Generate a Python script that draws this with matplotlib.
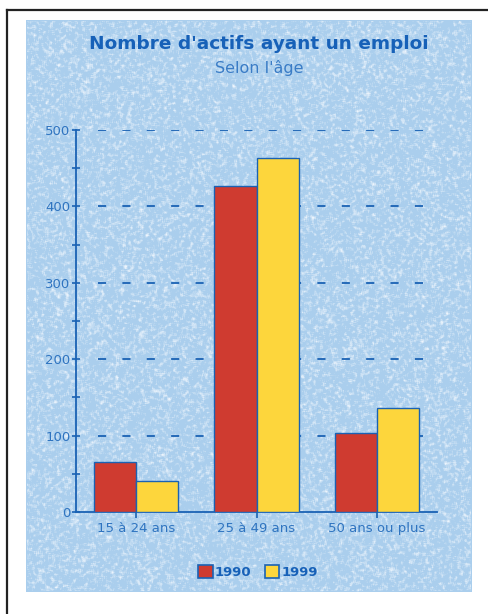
import numpy as np
import matplotlib.pyplot as plt
from matplotlib.lines import Line2D
from matplotlib.patches import Patch

categories = ['15 à 24 ans', '25 à 49 ans', '50 ans ou plus']
years = ['1990', '1999']
actifs_1990 = [65, 427, 103]
actifs_1999 = [40, 463, 136]

BLUE = '#1a62b4'
RED = '#cf3b30'
YELLOW = '#fdd63c'

plt.rcParams['font.family'] = ['DejaVu Sans']

W, H = 488, 614
fig = plt.figure(figsize=(W / 100, H / 100), dpi=100)
fig.patch.set_facecolor('white')

# speckled light-blue panel behind the chart
px0, px1, py0, py1 = 26, 472, 20, 592
bg = fig.add_axes([px0 / W, 1 - py1 / H, (px1 - px0) / W, (py1 - py0) / H], zorder=0)
rng = np.random.default_rng(7)
h, w = py1 - py0, px1 - px0
noise = rng.random((h, w))
k = np.ones(3) / 3
noise = np.apply_along_axis(lambda r: np.convolve(r, k, mode='same'), 1, noise)
noise = np.apply_along_axis(lambda c: np.convolve(c, k, mode='same'), 0, noise)
base = np.array([0.67, 0.81, 0.93])
white = np.clip((noise - 0.48) * 2.8, 0, 1)[..., None]
img = base * (1 - white) + np.array([0.93, 0.96, 0.99]) * white
bg.imshow(img, aspect='auto', interpolation='bilinear')
bg.set_axis_off()

# scanned page border (top and left edges)
fig.add_artist(Line2D([7 / W, 1], [1 - 10 / H, 1 - 10 / H], color='#222222', lw=1.6,
                      transform=fig.transFigure))
fig.add_artist(Line2D([7 / W, 7 / W], [0, 1 - 10 / H], color='#222222', lw=1.6,
                      transform=fig.transFigure))

ax = fig.add_axes([76 / W, 1 - 512 / H, (437 - 76) / W, (512 - 130) / H], zorder=1)
ax.patch.set_alpha(0)

x = np.arange(len(categories))
bw = 0.35
ax.bar(x - bw / 2, actifs_1990, bw, color=RED, edgecolor=BLUE, linewidth=1.0, zorder=3,
       label=years[0])
ax.bar(x + bw / 2, actifs_1999, bw, color=YELLOW, edgecolor=BLUE, linewidth=1.0, zorder=3,
       label=years[1])

ax.set_xlim(-0.5, 2.5)
ax.set_ylim(0, 500)
ax.set_yticks(range(0, 501, 100))
ax.set_yticks(range(50, 500, 100), minor=True)
ax.set_xticks(x)
ax.set_xticklabels(categories)

for v in range(100, 501, 100):
    ax.axhline(v, xmin=0.06, xmax=0.99, color=BLUE, lw=1.3, ls=(0, (4.5, 9)), zorder=1)

for s in ['top', 'right']:
    ax.spines[s].set_visible(False)
for s in ['left', 'bottom']:
    ax.spines[s].set_color(BLUE)
    ax.spines[s].set_linewidth(1.3)

ax.tick_params(axis='y', which='both', direction='inout', length=6, width=1.2,
               color=BLUE, labelcolor='#2f74c0', labelsize=9.5, pad=1)
ax.tick_params(axis='x', direction='out', length=4, width=1.2, color=BLUE,
               labelcolor='#2f74c0', labelsize=9.5, pad=3)

fig.text(259 / W, 1 - 44 / H, "Nombre d'actifs ayant un emploi",
         ha='center', va='center', fontsize=13.3, fontweight='bold', color='#1761b8')
fig.text(259 / W, 1 - 68 / H, "Selon l'âge",
         ha='center', va='center', fontsize=11.5, color='#3a7cc6')

handles = [Patch(facecolor=RED, edgecolor=BLUE, linewidth=1.2),
           Patch(facecolor=YELLOW, edgecolor=BLUE, linewidth=1.2)]
leg = fig.legend(handles, years, loc='center', bbox_to_anchor=(258 / W, 1 - 572 / H),
                 ncol=2, frameon=False, handlelength=1.1, handleheight=1.1,
                 handletextpad=0.15, columnspacing=1.0, fontsize=9.5)
for t in leg.get_texts():
    t.set_color('#1761b8')
    t.set_fontweight('bold')

fig.savefig('out.png', dpi=100)
